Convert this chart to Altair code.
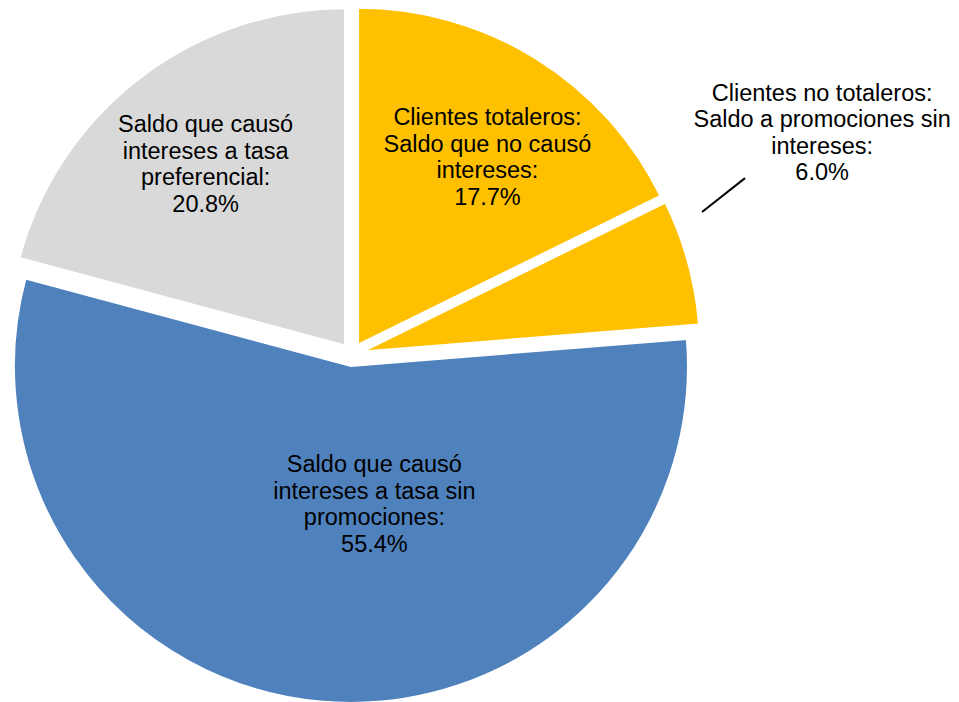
import altair as alt
import pandas as pd

# ---- data ----
categories = [
    "Clientes totaleros: Saldo que no causó intereses",
    "Clientes no totaleros: Saldo a promociones sin intereses",
    "Saldo que causó intereses a tasa sin promociones",
    "Saldo que causó intereses a tasa preferencial",
]
label_lines = [
    "Clientes totaleros:\nSaldo que no causó\nintereses:",
    "Clientes no totaleros:\nSaldo a promociones sin\nintereses:",
    "Saldo que causó\nintereses a tasa sin\npromociones:",
    "Saldo que causó\nintereses a tasa\npreferencial:",
]
values = [17.7, 6.0, 55.4, 20.8]

# ---- styling / layout ----
colors = ["#FFC000", "#FFC000", "#4F81BD", "#D9D9D9"]
W, H = 943, 694
CX, CY = 344, 346.5      # pie centre inside the plot area (px)
EXPLODE = 11.5           # slice explosion distance (px)
R = 337                  # pie radius (px)
FS, LH = 23.5, 26.6      # label font size / line height
N_LINES = 4
# label placement per slice: (distance from slice centre, angle tweak in degrees)
label_place = [(227.3, 2.8), (508.2, -10.0), (141.0, -14.8), (228.0, -0.2)]
# leader line of the outside label: (r_start, dtheta_start, r_end, dtheta_end)
leader = (366.5, -6.95, 419.4, -9.0)
leader_slice = 1

df = pd.DataFrame({
    "order": list(range(len(categories))),
    "category": categories,
    "label": label_lines,
    "value": values,
})

base = (
    alt.Chart(df)
    .transform_joinaggregate(total="sum(value)")
    .transform_window(cum="sum(value)", sort=[alt.SortField("order")], frame=[None, 0])
    .transform_calculate(
        t1="2*PI*datum.cum/datum.total",
        t0="2*PI*(datum.cum-datum.value)/datum.total",
    )
    .transform_calculate(mid="(datum.t0+datum.t1)/2")
    .transform_calculate(
        ox=f"{CX}+{EXPLODE}*sin(datum.mid)",
        oy=f"{CY}-{EXPLODE}*cos(datum.mid)",
        text="datum.label + '\\n' + format(datum.value, '.1f') + '%'",
    )
)

arcs = base.mark_arc(radius=R, stroke="white", strokeWidth=2).encode(
    x=alt.X("ox:Q", scale=None, axis=None),
    y=alt.Y("oy:Q", scale=None, axis=None),
    theta=alt.Theta("t0:Q", scale=None, stack=False),
    theta2=alt.Theta2("t1:Q"),
    color=alt.Color("category:N", scale=alt.Scale(domain=categories, range=colors), legend=None),
)

layers = [arcs]
for i, (r, dth) in enumerate(label_place):
    t = (
        base.transform_filter(f"datum.order == {i}")
        .transform_calculate(
            tx=f"datum.ox + {r}*sin(datum.mid + {dth}*PI/180)",
            ty=f"datum.oy - {r}*cos(datum.mid + {dth}*PI/180)",
        )
        .mark_text(
            align="center", baseline="middle", font="Arial", fontSize=FS,
            lineHeight=LH, lineBreak="\n", color="black",
            dy=-(N_LINES - 1) * LH / 2,
        )
        .encode(
            x=alt.X("tx:Q", scale=None, axis=None),
            y=alt.Y("ty:Q", scale=None, axis=None),
            text="text:N",
        )
    )
    layers.append(t)

r1, d1, r2, d2 = leader
line = (
    base.transform_filter(f"datum.order == {leader_slice}")
    .transform_calculate(
        lx1=f"datum.ox + {r1}*sin(datum.mid + {d1}*PI/180)",
        ly1=f"datum.oy - {r1}*cos(datum.mid + {d1}*PI/180)",
        lx2=f"datum.ox + {r2}*sin(datum.mid + {d2}*PI/180)",
        ly2=f"datum.oy - {r2}*cos(datum.mid + {d2}*PI/180)",
    )
    .mark_rule(color="black", strokeWidth=2)
    .encode(
        x=alt.X("lx1:Q", scale=None, axis=None),
        y=alt.Y("ly1:Q", scale=None, axis=None),
        x2="lx2:Q",
        y2="ly2:Q",
    )
)
layers.append(line)

chart = (
    alt.layer(*layers)
    .properties(width=W, height=H, padding=0, autosize=alt.AutoSizeParams(type="none"))
    .configure_view(strokeWidth=0)
)

chart.save("out.html", embed_options={"renderer": "svg", "actions": False})
